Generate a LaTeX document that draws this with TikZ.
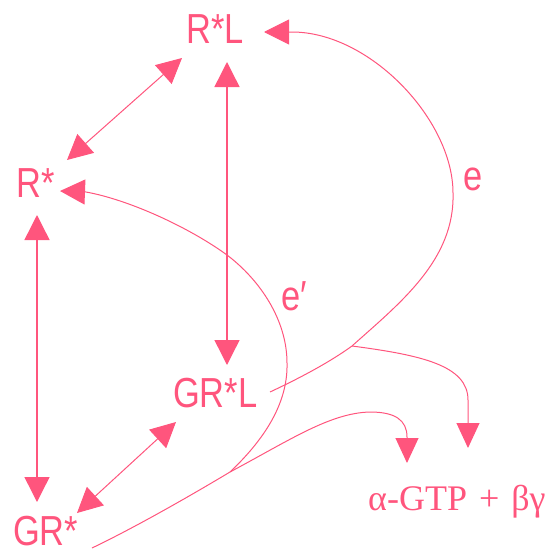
\documentclass[tikz,border=0pt]{standalone}
\usepackage{fontspec}
\setmainfont{Liberation Serif}
\newfontfamily\labfont{Liberation Sans}[FakeStretch=0.82]
\usetikzlibrary{arrows.meta}
\definecolor{pk}{RGB}{255,85,125}
\tikzset{bigtri/.tip={Triangle[length=25pt,width=25pt]},
  smalltri/.tip={Triangle[length=25pt,width=23pt]}}
\begin{document}
\begin{tikzpicture}[x=1pt,y=-1pt,
  lab/.style={font=\labfont\fontsize{42}{42}\selectfont, text=pk, inner sep=0pt, text depth=0pt, anchor=base west},
  prodlab/.style={font=\fontsize{36}{36}\selectfont, text=pk, inner sep=0pt, anchor=base west},
  thick line/.style={draw=pk, line width=1.4pt},
  thin line/.style={draw=pk, line width=1pt}]
\useasboundingbox (0,0) rectangle (554,554);
% labels
\node[lab] (RL) at (186,43) {R*L};
\node[lab] (R) at (16,197) {R*};
\node[lab] (GRL) at (173,407) {GR*L};
\node[lab] (GR) at (13,545) {GR*};
\node[lab] (e) at (463,190) {e};
\node[lab] (ep) at (281,310) {e′};
\node[prodlab] (P) at (368,510) {α-GTP\hspace{3pt} + \hspace{3pt}βγ};
% arrow end coordinates
\coordinate (RLs) at (227,62);
\coordinate (GRLn) at (227,365);
\coordinate (Rs) at (37,215);
\coordinate (GRn) at (37,502);
\coordinate (RLsw) at (182,58);
\coordinate (Rne) at (67,160);
\coordinate (GRLsw) at (176,422);
\coordinate (GRne) at (77,513);
\coordinate (RLe) at (264,32);
\coordinate (Re) at (60,191);
\coordinate (GRLe) at (270,392);
\coordinate (GRe) at (92,548);
\coordinate (J1) at (352,346);
\coordinate (J2) at (230,472);
\coordinate (P1) at (468,448);
\coordinate (P2) at (407,463);
% straight double arrows
\draw[thick line, bigtri-bigtri] (RLs) -- (GRLn);
\draw[thick line, bigtri-bigtri] (Rs) -- (GRn);
\draw[thin line, bigtri-bigtri] (RLsw) -- (Rne);
\draw[thin line, bigtri-bigtri] (GRLsw) -- (GRne);
% curve e
\draw[thin line, -bigtri] (GRLe) .. controls (300,378) and (330,362) .. (J1)
   .. controls (400,303) and (455,260) .. (453,193)
   .. controls (453,120) and (370,32) .. (292,32) -- (RLe);
\draw[thin line, -smalltri] (J1) .. controls (420,355) and (468,365) .. (468,400) -- (P1);
% curve e'
\draw[thin line, -bigtri] (GRe) .. controls (140,525) and (200,490) .. (J2)
   .. controls (268,436) and (288,400) .. (287,363)
   .. controls (287,320) and (260,280) .. (227,255)
   .. controls (190,228) and (130,200) .. (86,192) -- (Re);
\draw[thin line, -smalltri] (J2) .. controls (290,440) and (330,413) .. (370,412)
   .. controls (395,412) and (407,420) .. (407,437) -- (P2);
\end{tikzpicture}
\end{document}
